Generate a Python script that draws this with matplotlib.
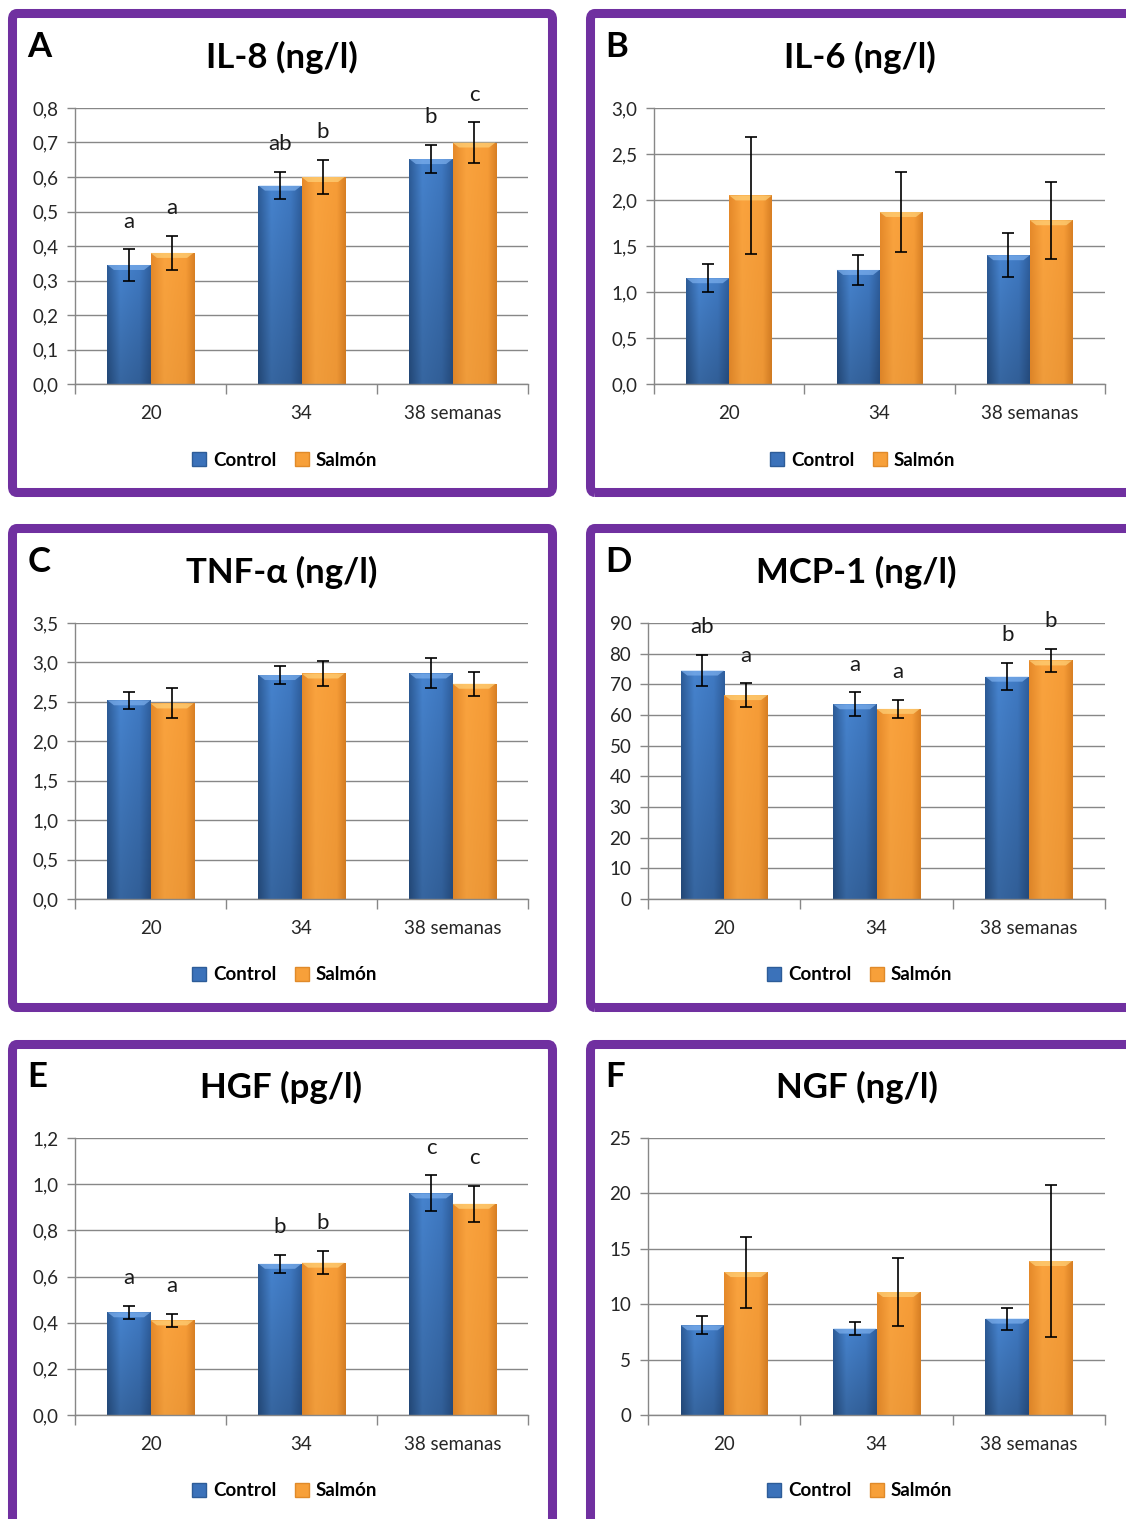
import matplotlib
matplotlib.use('Agg')
import matplotlib.pyplot as plt
import matplotlib.patches as mpatches
from matplotlib.colors import to_rgb
import numpy as np

plt.rcParams['font.family'] = ['Lato', 'DejaVu Sans']

weeks = ['20', '34', '38 semanas']
groups = ['Control', 'Salmón']

# A - IL-8
il8_ctrl = [0.345, 0.575, 0.652]
il8_ctrl_err = [0.045, 0.040, 0.040]
il8_salm = [0.380, 0.600, 0.700]
il8_salm_err = [0.050, 0.050, 0.058]
il8_ctrl_let = ['a', 'ab', 'b']
il8_salm_let = ['a', 'b', 'c']

# B - IL-6
il6_ctrl = [1.15, 1.24, 1.40]
il6_ctrl_err = [0.15, 0.16, 0.24]
il6_salm = [2.05, 1.87, 1.78]
il6_salm_err = [0.64, 0.43, 0.42]

# C - TNF-alpha
tnf_ctrl = [2.52, 2.84, 2.86]
tnf_ctrl_err = [0.11, 0.11, 0.19]
tnf_salm = [2.48, 2.86, 2.73]
tnf_salm_err = [0.19, 0.16, 0.15]

# D - MCP-1
mcp_ctrl = [74.5, 63.5, 72.5]
mcp_ctrl_err = [5.0, 3.9, 4.5]
mcp_salm = [66.5, 62.0, 77.8]
mcp_salm_err = [3.8, 2.9, 3.7]
mcp_ctrl_let = ['ab', 'a', 'b']
mcp_salm_let = ['a', 'a', 'b']

# E - HGF
hgf_ctrl = [0.445, 0.655, 0.960]
hgf_ctrl_err = [0.027, 0.038, 0.078]
hgf_salm = [0.410, 0.660, 0.915]
hgf_salm_err = [0.028, 0.050, 0.078]
hgf_ctrl_let = ['a', 'b', 'c']
hgf_salm_let = ['a', 'b', 'c']

# F - NGF
ngf_ctrl = [8.1, 7.8, 8.7]
ngf_ctrl_err = [0.8, 0.6, 1.0]
ngf_salm = [12.9, 11.1, 13.9]
ngf_salm_err = [3.2, 3.05, 6.9]

W, H = 1126, 1519
fig = plt.figure(figsize=(W / 100, H / 100), dpi=100)

PURPLE = '#7030A0'
GRID = '#878787'
BLUE_STOPS = [(0, '#2D5C98'), (0.3, '#4683CE'), (0.75, '#3F79C2'), (1, '#2F5F9E')]
ORANGE_STOPS = [(0, '#E68A2A'), (0.3, '#FAA33E'), (0.8, '#F69C37'), (1, '#D98024')]


def fx(px):
    return px / W


def fy(py):
    return 1 - py / H


def shade_bar(ax, rect, stops, dark, top_col, px_unit):
    x0, w, h = rect.get_x(), rect.get_width(), rect.get_height()
    t = np.linspace(0, 1, 40)
    pos = [s[0] for s in stops]
    cols = np.array([to_rgb(s[1]) for s in stops])
    row = np.stack([np.interp(t, pos, cols[:, k]) for k in range(3)], axis=1)
    v = np.linspace(dark, 1.0, 40)[:, None, None]
    img = np.clip(row[None, :, :] * v, 0, 1)
    im = ax.imshow(img, extent=(x0, x0 + w, 0, h), origin='lower',
                   aspect='auto', zorder=2, interpolation='bilinear')
    im.set_clip_path(rect)
    cap = 5 * px_unit
    ax.add_patch(mpatches.Polygon([(x0, h), (x0 + w, h), (x0 + w * 0.85, h - cap),
                                   (x0 + w * 0.15, h - cap)],
                                  closed=True, fc=top_col, ec='none', zorder=3, alpha=0.7))


def panel(box, frame, letter, title, ymax, step, ctrl, ctrl_err, salm, salm_err,
          ctrl_let=None, salm_let=None, fmt='{:.1f}'):
    l, t, r, b = box
    # purple frame
    fl, ft, fr, fb = frame
    fig.patches.append(mpatches.FancyBboxPatch((fx(fl), fy(fb)), fx(fr) - fx(fl), fy(ft) - fy(fb),
                                               boxstyle='round,pad=0,rounding_size=0.004',
                                               transform=fig.transFigure, fill=False,
                                               ec=PURPLE, lw=6.5))
    ax = fig.add_axes([fx(l), fy(b), fx(r) - fx(l), fy(t) - fy(b)])
    x = np.arange(len(weeks))
    w = 0.285
    px_unit = ymax / (b - t)
    b1 = ax.bar(x - w / 2, ctrl, w, color='#3F79C2', zorder=1, lw=0)
    b2 = ax.bar(x + w / 2, salm, w, color='#F7A03A', zorder=1, lw=0)
    for rect in b1:
        shade_bar(ax, rect, BLUE_STOPS, 0.78, '#7DB0EE', px_unit)
    for rect in b2:
        shade_bar(ax, rect, ORANGE_STOPS, 0.96, '#FFD27A', px_unit)
    ax.errorbar(x - w / 2, ctrl, yerr=ctrl_err, fmt='none', ecolor='black',
                elinewidth=1.2, capsize=4, capthick=1.2, zorder=5)
    ax.errorbar(x + w / 2, salm, yerr=salm_err, fmt='none', ecolor='black',
                elinewidth=1.2, capsize=4, capthick=1.2, zorder=5)
    if ctrl_let:
        for xi, v, e, s in zip(x - w / 2, ctrl, ctrl_err, ctrl_let):
            ax.annotate(s, (xi, v + e), xytext=(0, 20), textcoords='offset points',
                        ha='center', va='center', fontsize=16, color='#1a1a1a', zorder=6)
        for xi, v, e, s in zip(x + w / 2, salm, salm_err, salm_let):
            ax.annotate(s, (xi, v + e), xytext=(0, 20), textcoords='offset points',
                        ha='center', va='center', fontsize=16, color='#1a1a1a', zorder=6)

    ax.set_xlim(-0.5, 2.5)
    ax.set_ylim(0, ymax)
    yt = np.arange(0, ymax + step / 2, step)
    ax.set_yticks(yt)
    ax.set_yticklabels([fmt.format(v).replace('.', ',') for v in yt])
    ax.set_xticks([-0.5, 0.5, 1.5, 2.5])
    ax.set_xticklabels([])
    ax.set_xticks(x, minor=True)
    ax.set_xticklabels(weeks, minor=True)
    ax.tick_params(axis='x', which='major', length=7, width=1, color=GRID, direction='out')
    ax.tick_params(axis='x', which='minor', length=0, pad=15, labelsize=13.5, labelcolor='#262626')
    ax.tick_params(axis='y', length=6, width=1, color=GRID, direction='out', pad=6,
                   labelsize=13.5, labelcolor='#262626')
    ax.yaxis.grid(True, color=GRID, lw=1.0)
    ax.set_axisbelow(True)
    for sp in ['top', 'right']:
        ax.spines[sp].set_visible(False)
    for sp in ['left', 'bottom']:
        ax.spines[sp].set_color(GRID)
        ax.spines[sp].set_linewidth(1.0)
    ax.patch.set_alpha(0)

    # title, panel letter, legend
    cx = (l + r) / 2
    fig.text(fx(cx - 20), fy(t - 51), title, ha='center', va='center',
             fontsize=25, fontweight='bold', color='black')
    fig.text(fx(fl + 15), fy(t - 61), letter, ha='left', va='center',
             fontsize=25, fontweight='bold', color='black')
    handles = [mpatches.Patch(fc='#3B72BA', ec='#2D5C98'),
               mpatches.Patch(fc='#F7A03A', ec='#E08A2A')]
    fig.legend(handles, groups, loc='center', bbox_to_anchor=(fx(cx - 17), fy(b + 76)),
               ncol=2, frameon=False, handlelength=0.75, handleheight=0.75,
               columnspacing=1.0, handletextpad=0.35,
               prop={'weight': 'bold', 'size': 13.5})
    return ax


panel((75, 108, 528, 384), (12.5, 13.5, 552.5, 492.5), 'A', 'IL-8 (ng/l)', 0.8, 0.1,
      il8_ctrl, il8_ctrl_err, il8_salm, il8_salm_err, il8_ctrl_let, il8_salm_let)
panel((654, 108, 1105, 384), (590.5, 13.5, 1140, 492.5), 'B', 'IL-6 (ng/l)', 3.0, 0.5,
      il6_ctrl, il6_ctrl_err, il6_salm, il6_salm_err)
panel((75, 623, 528, 899), (12.5, 528.5, 552.5, 1007.5), 'C', 'TNF-α (ng/l)', 3.5, 0.5,
      tnf_ctrl, tnf_ctrl_err, tnf_salm, tnf_salm_err)
panel((648, 623, 1105, 899), (590.5, 528.5, 1140, 1007.5), 'D', 'MCP-1 (ng/l)', 90, 10,
      mcp_ctrl, mcp_ctrl_err, mcp_salm, mcp_salm_err, mcp_ctrl_let, mcp_salm_let, fmt='{:.0f}')
panel((75, 1138, 528, 1415), (12.5, 1044.5, 552.5, 1540), 'E', 'HGF (pg/l)', 1.2, 0.2,
      hgf_ctrl, hgf_ctrl_err, hgf_salm, hgf_salm_err, hgf_ctrl_let, hgf_salm_let)
panel((648, 1138, 1105, 1415), (590.5, 1044.5, 1140, 1540), 'F', 'NGF (ng/l)', 25, 5,
      ngf_ctrl, ngf_ctrl_err, ngf_salm, ngf_salm_err, fmt='{:.0f}')

fig.savefig('out.png', dpi=100, facecolor='white')
